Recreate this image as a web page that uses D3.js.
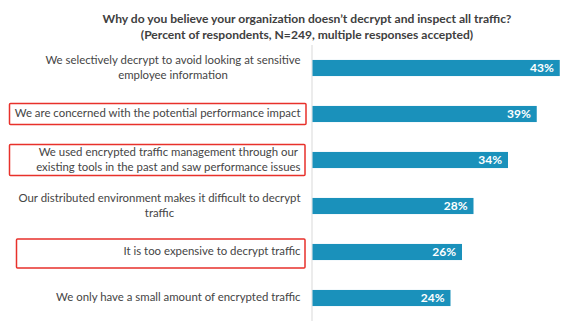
<!DOCTYPE html>
<html>
<head>
<meta charset="utf-8">
<script src="https://cdn.jsdelivr.net/npm/d3@7"></script>
<style>
  html, body { margin: 0; padding: 0; background: #ffffff; }
  svg { display: block; }
</style>
</head>
<body>
<div id="chart"></div>
<script>
// ---- data ----
const titleLines = [
  "Why do you believe your organization doesn\u2019t decrypt and inspect all traffic?",
  "(Percent of respondents, N=249, multiple responses accepted)"
];
const categories = [
  "We selectively decrypt to avoid looking at sensitive employee information",
  "We are concerned with the potential performance impact",
  "We used encrypted traffic management through our existing tools in the past and saw performance issues",
  "Our distributed environment makes it difficult to decrypt traffic",
  "It is too expensive to decrypt traffic",
  "We only have a small amount of encrypted traffic"
];
const categoryLines = [
  ["We selectively decrypt to avoid looking at sensitive", "employee information"],
  ["We are concerned with the potential performance impact"],
  ["We used encrypted traffic management through our", "existing tools in the past and saw performance issues"],
  ["Our distributed environment makes it difficult to decrypt", "traffic"],
  ["It is too expensive to decrypt traffic"],
  ["We only have a small amount of encrypted traffic"]
];
const values = [43, 39, 34, 28, 26, 24];
const highlighted = [
  "We are concerned with the potential performance impact",
  "We used encrypted traffic management through our existing tools in the past and saw performance issues",
  "It is too expensive to decrypt traffic"
];

// ---- layout ----
const W = 576, H = 328;
const FONT = "Lato, 'Source Sans Pro', 'Noto Sans', sans-serif";
const svg = d3.select("#chart").append("svg").attr("width", W).attr("height", H);

const x = d3.scaleLinear().domain([0, 45]).range([312.5, 571.25]);
const y = d3.scaleBand().domain(categories).range([45, 321]).paddingInner(0.65).paddingOuter(0.325);

// measure helper to fit font sizes
function measure(text, size, weight) {
  const t = svg.append("text").attr("font-family", FONT).attr("font-size", size)
    .attr("font-weight", weight).text(text);
  const w = t.node().getComputedTextLength();
  t.remove();
  return w;
}
const labelSize = Math.min(13, 12 * 286 / measure(categoryLines[1][0], 12, 400));
const titleSize = Math.min(15, 13 * 409 / measure(titleLines[0], 13, 700));

// title
svg.append("g").selectAll("text").data(titleLines).join("text")
  .attr("x", 307)
  .attr("y", (d, i) => 23 + i * 15.5)
  .attr("text-anchor", "middle")
  .attr("font-family", FONT)
  .attr("font-weight", 700)
  .attr("font-size", titleSize)
  .attr("fill", "#404040")
  .text(d => d);

// axis line
svg.append("line")
  .attr("x1", x(0) - 0.5).attr("x2", x(0) - 0.5)
  .attr("y1", y.range()[0]).attr("y2", y.range()[1])
  .attr("stroke", "#d9d9d9").attr("stroke-width", 1);

// bars
svg.append("g").selectAll("rect").data(categories).join("rect")
  .attr("x", x(0))
  .attr("y", d => y(d))
  .attr("width", (d, i) => x(values[i]) - x(0))
  .attr("height", y.bandwidth())
  .attr("fill", "#1a91bb");

// value labels
svg.append("g").selectAll("text").data(categories).join("text")
  .attr("x", (d, i) => x(values[i]) - 6)
  .attr("y", d => y(d) + y.bandwidth() / 2)
  .attr("dy", "0.36em")
  .attr("text-anchor", "end")
  .attr("font-family", FONT)
  .attr("font-weight", 700)
  .attr("font-size", 12)
  .attr("fill", "#ffffff")
  .text((d, i) => values[i] + "%");

// category labels
const labelRight = 300.5;
const lineH = 15;
categories.forEach((c, i) => {
  const lines = categoryLines[i];
  const widths = lines.map(l => measure(l, labelSize, 400));
  const maxW = d3.max(widths);
  const cx = labelRight - maxW / 2;
  const cy = y(c) + y.bandwidth() / 2 - 0.5;
  const t = svg.append("text")
    .attr("font-family", FONT)
    .attr("font-size", labelSize)
    .attr("fill", "#454545")
    .attr("text-anchor", "middle");
  lines.forEach((l, j) => {
    t.append("tspan")
      .attr("x", cx)
      .attr("y", cy + (j - (lines.length - 1) / 2) * lineH)
      .attr("dy", "0.35em")
      .text(l);
  });
});

// highlight boxes
const boxes = {
  [highlighted[0]]: { x0: 9.5, x1: 306, h: 21 },
  [highlighted[1]]: { x0: 9.5, x1: 305, h: 31 },
  [highlighted[2]]: { x0: 16.5, x1: 305, h: 29 }
};
svg.append("g").selectAll("rect").data(highlighted).join("rect")
  .attr("x", d => boxes[d].x0)
  .attr("y", d => y(d) + y.bandwidth() / 2 - boxes[d].h / 2 + (d === highlighted[2] ? 1.5 : 0))
  .attr("width", d => boxes[d].x1 - boxes[d].x0)
  .attr("height", d => boxes[d].h)
  .attr("fill", "none")
  .attr("stroke", "#e8312b")
  .attr("stroke-width", 1.5)
  .attr("rx", 1);
</script>
</body>
</html>
